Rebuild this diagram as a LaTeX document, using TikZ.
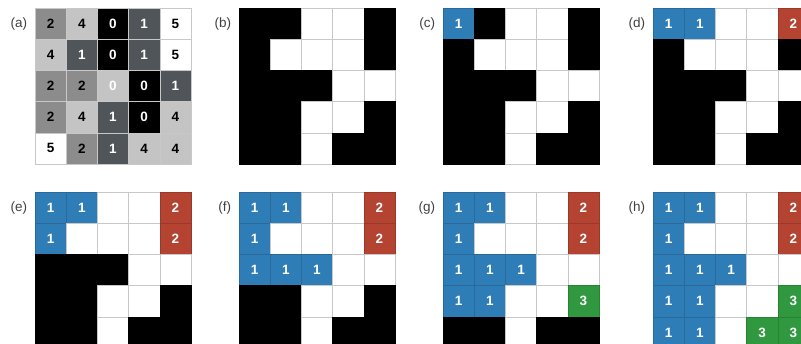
\documentclass[tikz,border=0pt]{standalone}
\usepackage{fontspec}
\setmainfont{Liberation Sans}
\usetikzlibrary{positioning}
\definecolor{lblblue}{RGB}{47,125,182}
\definecolor{lblred}{RGB}{181,67,49}
\definecolor{lblgreen}{RGB}{48,152,63}
\definecolor{gone}{RGB}{80,85,90}
\definecolor{gtwo}{RGB}{140,140,140}
\definecolor{gfour}{RGB}{196,196,196}
\definecolor{gridline}{RGB}{200,200,200}

% one 5x5 panel: name, left, top, rows
\newcommand{\gridpanel}[4]{%
  \foreach \row [count=\r] in {#4}{
    \foreach \code/\txt [count=\j] in \row{
      \node[cell,c\code] (#1-\r-\j) at (#2+\j*31.2-15.6,#3+\r*31.2-15.6) {\txt};
    }
  }
}

\begin{document}
\begin{tikzpicture}[x=1pt,y=-1pt,
    cell/.style={minimum size=31.2pt,inner sep=0pt,line width=0.5pt,
      font=\bfseries\fontsize{13.5}{13.5}\selectfont},
    cK/.style={fill=black,draw=black},
    cW/.style={fill=white,draw=gridline},
    cB/.style={fill=lblblue,draw=lblblue!85!black,text=white},
    cR/.style={fill=lblred,draw=lblred!85!black,text=white},
    cG/.style={fill=lblgreen,draw=lblgreen!85!black,text=white},
    c0/.style={fill=black,draw=gridline,text=white},
    c0x/.style={fill=gfour,draw=gridline,text=white},
    c1/.style={fill=gone,draw=gridline,text=white},
    c2/.style={fill=gtwo,draw=gridline,text=black},
    c4/.style={fill=gfour,draw=gridline,text=black},
    c5/.style={fill=white,draw=gridline,text=black},
    panellabel/.style={anchor=east,text=black!75,font=\fontsize{13.5}{14}\selectfont}]
  \useasboundingbox (0,0) rectangle (801,344);
  \clip (0,0) rectangle (801,344);

  % (a) grey-level input
  \gridpanel{a}{35}{8}{{2/2,4/4,0/0,1/1,5/5},{4/4,1/1,0/0,1/1,5/5},{2/2,2/2,0x/0,0/0,1/1},{2/2,4/4,1/1,0/0,4/4},{5/5,2/2,1/1,4/4,4/4}}
  \node[panellabel,left=4pt of a-1-1.west] (la) {(a)};

  % (b) binary image
  \gridpanel{b}{239}{8}{{K/{},K/{},W/{},W/{},K/{}},{K/{},W/{},W/{},W/{},K/{}},{K/{},K/{},K/{},W/{},W/{}},{K/{},K/{},W/{},W/{},K/{}},{K/{},K/{},W/{},K/{},K/{}}}
  \node[panellabel,left=4pt of b-1-1.west] (lb) {(b)};

  % (c)
  \gridpanel{c}{443}{8}{{B/1,K/{},W/{},W/{},K/{}},{K/{},W/{},W/{},W/{},K/{}},{K/{},K/{},K/{},W/{},W/{}},{K/{},K/{},W/{},W/{},K/{}},{K/{},K/{},W/{},K/{},K/{}}}
  \node[panellabel,left=4pt of c-1-1.west] (lc) {(c)};

  % (d)
  \gridpanel{d}{653}{8}{{B/1,B/1,W/{},W/{},R/2},{K/{},W/{},W/{},W/{},K/{}},{K/{},K/{},K/{},W/{},W/{}},{K/{},K/{},W/{},W/{},K/{}},{K/{},K/{},W/{},K/{},K/{}}}
  \node[panellabel,left=4pt of d-1-1.west] (ld) {(d)};

  % (e)
  \gridpanel{e}{35}{192}{{B/1,B/1,W/{},W/{},R/2},{B/1,W/{},W/{},W/{},R/2},{K/{},K/{},K/{},W/{},W/{}},{K/{},K/{},W/{},W/{},K/{}},{K/{},K/{},W/{},K/{},K/{}}}
  \node[panellabel,left=4pt of e-1-1.west] (le) {(e)};

  % (f)
  \gridpanel{f}{239}{192}{{B/1,B/1,W/{},W/{},R/2},{B/1,W/{},W/{},W/{},R/2},{B/1,B/1,B/1,W/{},W/{}},{K/{},K/{},W/{},W/{},K/{}},{K/{},K/{},W/{},K/{},K/{}}}
  \node[panellabel,left=4pt of f-1-1.west] (lf) {(f)};

  % (g)
  \gridpanel{g}{443}{192}{{B/1,B/1,W/{},W/{},R/2},{B/1,W/{},W/{},W/{},R/2},{B/1,B/1,B/1,W/{},W/{}},{B/1,B/1,W/{},W/{},G/3},{K/{},K/{},W/{},K/{},K/{}}}
  \node[panellabel,left=4pt of g-1-1.west] (lg) {(g)};

  % (h)
  \gridpanel{h}{653}{192}{{B/1,B/1,W/{},W/{},R/2},{B/1,W/{},W/{},W/{},R/2},{B/1,B/1,B/1,W/{},W/{}},{B/1,B/1,W/{},W/{},G/3},{B/1,B/1,W/{},G/3,G/3}}
  \node[panellabel,left=4pt of h-1-1.west] (lh) {(h)};
\end{tikzpicture}
\end{document}
